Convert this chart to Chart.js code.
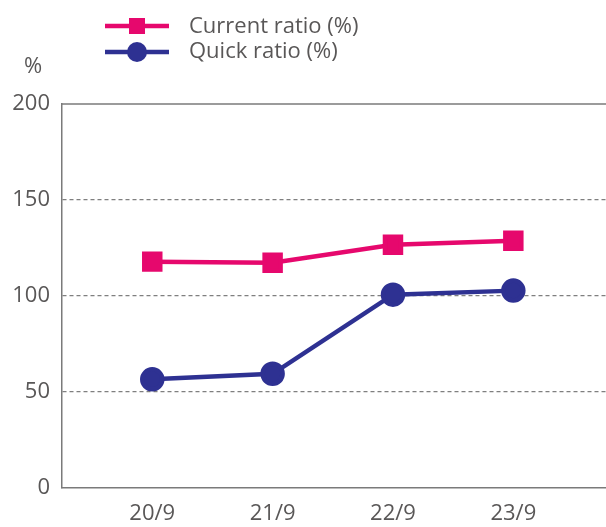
<!DOCTYPE html>
<html>
<head>
<meta charset="utf-8">
<script src="https://cdn.jsdelivr.net/npm/chart.js@4.4.1/dist/chart.umd.min.js"></script>
<style>
  html, body { margin: 0; padding: 0; background: #fff; overflow: hidden; }
  #wrap { width: 606px; height: 527px; position: relative; overflow: hidden; }
  #chart { display: block; }
</style>
</head>
<body>
<div id="wrap"><canvas id="chart"></canvas></div>
<script>
// Daten
const categories = ['20/9', '21/9', '22/9', '23/9'];
const currentRatio = [117.9, 117.3, 126.7, 128.8];
const quickRatio = [56.6, 59.5, 100.7, 102.8];
const yTicks = [0, 50, 100, 150, 200];
const seriesNames = ['Current ratio (%)', 'Quick ratio (%)'];

const pink = '#e6086d';
const navy = '#2e3192';
const textGrey = '#595757';
const axisGrey = '#7a7a7a';
const fontFamily = '"Open Sans", "DejaVu Sans", sans-serif';

// Legende, Einheit und obere Linie selbst zeichnen
const extrasPlugin = {
    id: 'extras',
    afterDraw(chart) {
        const ctx = chart.ctx;
        const area = chart.chartArea;
        ctx.save();

        // obere Rahmenlinie
        ctx.strokeStyle = axisGrey;
        ctx.lineWidth = 1.5;
        ctx.beginPath();
        ctx.moveTo(area.left, area.top);
        ctx.lineTo(area.right, area.top);
        ctx.stroke();

        // Einheit
        ctx.fillStyle = textGrey;
        ctx.font = '22px ' + fontFamily;
        ctx.textAlign = 'center';
        ctx.textBaseline = 'alphabetic';
        ctx.fillText('%', 33, 73);

        // Legende
        const rows = [
            { y: 26, base: 33, ds: chart.data.datasets[0] },
            { y: 52, base: 58, ds: chart.data.datasets[1] }
        ];
        rows.forEach(row => {
            ctx.strokeStyle = row.ds.borderColor;
            ctx.lineWidth = 4.5;
            ctx.beginPath();
            ctx.moveTo(105, row.y);
            ctx.lineTo(169, row.y);
            ctx.stroke();
            ctx.fillStyle = row.ds.borderColor;
            if (row.ds.pointStyle === 'rect') {
                ctx.fillRect(129, row.y - 8, 16, 16);
            } else {
                ctx.beginPath();
                ctx.arc(137, row.y, 10, 0, Math.PI * 2);
                ctx.fill();
            }
            ctx.fillStyle = textGrey;
            ctx.textAlign = 'left';
            ctx.fillText(row.ds.label, 189, row.base);
        });
        ctx.restore();
    }
};

const toPoints = arr => arr.map((v, i) => ({ x: i, y: v }));

new Chart(document.getElementById('chart'), {
    type: 'line',
    data: {
        datasets: [{
            label: seriesNames[0],
            data: toPoints(currentRatio),
            borderColor: pink,
            backgroundColor: pink,
            borderWidth: 4.5,
            pointStyle: 'rect',
            pointRadius: 11.3,
            tension: 0
        }, {
            label: seriesNames[1],
            data: toPoints(quickRatio),
            borderColor: navy,
            backgroundColor: navy,
            borderWidth: 4.5,
            pointStyle: 'circle',
            pointRadius: 10,
            tension: 0
        }]
    },
    options: {
        responsive: true,
        maintainAspectRatio: false,
        animation: false,
        events: [],
        layout: { autoPadding: false, padding: { top: 104, right: 0, left: 0, bottom: 0 } },
        plugins: {
            legend: { display: false },
            tooltip: { enabled: false }
        },
        scales: {
            x: {
                type: 'linear',
                min: -0.75,
                max: 3.77,
                afterBuildTicks: scale => {
                    scale.ticks = categories.map((c, i) => ({ value: i }));
                },
                afterFit: scale => { scale.height = 39; },
                ticks: {
                    callback: v => categories[v],
                    color: textGrey,
                    font: { family: fontFamily, size: 22 },
                    padding: 13,
                    maxRotation: 0,
                    autoSkip: false
                },
                grid: { color: 'transparent', drawTicks: false },
                border: { display: true, color: axisGrey, width: 1.5 }
            },
            y: {
                min: 0,
                max: 200,
                afterBuildTicks: scale => {
                    scale.ticks = yTicks.map(v => ({ value: v }));
                },
                afterFit: scale => { scale.width = 62; },
                ticks: {
                    color: textGrey,
                    font: { family: fontFamily, size: 22 },
                    padding: 12
                },
                grid: {
                    drawTicks: false,
                    color: ctx => (ctx.tick && (ctx.tick.value === 0 || ctx.tick.value === 200)) ? 'transparent' : '#7f7f7f',
                    lineWidth: 1.2
                },
                border: { display: true, color: axisGrey, width: 1.5, dash: [4, 3] }
            }
        }
    },
    plugins: [extrasPlugin]
});
</script>
</body>
</html>
